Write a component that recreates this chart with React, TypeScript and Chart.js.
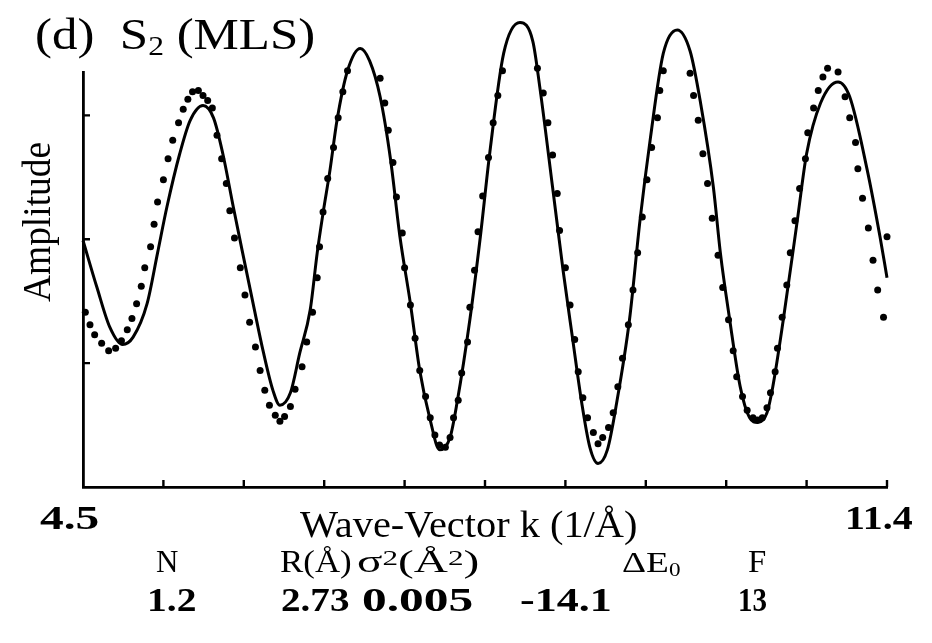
import React, { useEffect, useLayoutEffect, useRef, useState } from "react";
import { Chart, registerables } from "chart.js";

Chart.register(...registerables);

// Axis ranges (k in 1/Å, amplitude in arbitrary units)
const kMin = 4.5;
const kMax = 11.4;
const kTickStep = 0.69;
const ampMin = -2;
const ampMax = 1.35;
const ampTicks = [-1, 0, 1];

// Fitted curve (solid line)
const fitK = [
  4.5, 4.62, 4.73, 4.84, 4.93, 5.05, 5.14, 5.22, 5.33, 5.42, 5.53, 5.62, 5.7, 5.79, 5.87, 5.96,
  6.05, 6.13, 6.19, 6.28, 6.36, 6.45, 6.51, 6.56, 6.62, 6.68, 6.77, 6.88, 6.96, 7.05, 7.14, 7.22,
  7.31, 7.39, 7.48, 7.56, 7.65, 7.71, 7.82, 7.91, 7.99, 8.11, 8.25, 8.36, 8.42, 8.53, 8.62, 8.7,
  8.78, 8.85, 8.92, 9.0, 9.08, 9.19, 9.28, 9.37, 9.48, 9.6, 9.71, 9.8, 9.91, 9.97, 10.05, 10.14,
  10.22, 10.29, 10.37, 10.42, 10.51, 10.63, 10.71, 10.83, 10.98, 11.08, 11.23, 11.34, 11.4,
];
const fitAmp = [
  -0.01, -0.39, -0.71, -0.85, -0.79, -0.52, -0.11, 0.26, 0.69, 0.96, 1.08, 0.98, 0.69, 0.26, -0.11, -0.52,
  -0.92, -1.22, -1.34, -1.24, -0.92, -0.57, -0.11, 0.21, 0.56, 0.96, 1.36, 1.54, 1.44, 1.15, 0.64, 0.02,
  -0.52, -1.06, -1.46, -1.7, -1.6, -1.32, -0.65, 0.02, 0.69, 1.5, 1.75, 1.6, 1.23, 0.42, -0.25, -0.79,
  -1.32, -1.68, -1.81, -1.7, -1.32, -0.65, 0.15, 0.82, 1.5, 1.69, 1.52, 1.1, 0.42, -0.11, -0.65, -1.19,
  -1.44, -1.48, -1.4, -1.19, -0.65, 0.15, 0.69, 1.1, 1.27, 1.15, 0.56, 0.02, -0.31,
];

// Measured data (dots)
const dataK = [
  4.52, 4.56, 4.6, 4.66, 4.72, 4.78, 4.83, 4.88, 4.92, 4.96, 5.0, 5.03, 5.08, 5.11, 5.14, 5.19,
  5.23, 5.27, 5.32, 5.36, 5.4, 5.44, 5.49, 5.53, 5.57, 5.61, 5.65, 5.69, 5.73, 5.76, 5.8, 5.85,
  5.89, 5.93, 5.98, 6.02, 6.06, 6.1, 6.15, 6.19, 6.23, 6.28, 6.32, 6.38, 6.42, 6.47, 6.51, 6.53,
  6.56, 6.6, 6.65, 6.69, 6.73, 6.77, 6.82, 6.86, 6.9, 6.95, 7.01, 7.05, 7.09, 7.12, 7.16, 7.19,
  7.24, 7.26, 7.31, 7.35, 7.39, 7.44, 7.48, 7.52, 7.56, 7.61, 7.65, 7.68, 7.72, 7.75, 7.8, 7.82,
  7.86, 7.89, 7.93, 7.98, 8.02, 8.06, 8.1, 8.15, 8.19, 8.22, 8.28, 8.32, 8.36, 8.4, 8.45, 8.49,
  8.53, 8.57, 8.59, 8.64, 8.68, 8.72, 8.75, 8.79, 8.83, 8.88, 8.92, 8.96, 9.01, 9.05, 9.09, 9.13,
  9.18, 9.22, 9.26, 9.3, 9.34, 9.38, 9.43, 9.45, 9.48, 9.52, 9.56, 9.61, 9.65, 9.68, 9.71, 9.74,
  9.78, 9.82, 9.86, 9.9, 9.95, 9.99, 10.04, 10.08, 10.11, 10.16, 10.2, 10.25, 10.29, 10.33, 10.37, 10.4,
  10.44, 10.46, 10.5, 10.54, 10.57, 10.61, 10.65, 10.7, 10.72, 10.77, 10.81, 10.85, 10.89, 10.94, 10.98, 11.04,
  11.08, 11.13, 11.15, 11.19, 11.24, 11.28, 11.32, 11.37, 11.4,
];
const dataAmp = [
  -0.59, -0.69, -0.77, -0.84, -0.9, -0.88, -0.82, -0.73, -0.64, -0.52, -0.38, -0.23, -0.06, 0.12, 0.3, 0.48,
  0.65, 0.8, 0.94, 1.05, 1.13, 1.19, 1.2, 1.16, 1.12, 1.06, 0.84, 0.65, 0.45, 0.23, 0.01, -0.23,
  -0.45, -0.67, -0.87, -1.06, -1.22, -1.34, -1.42, -1.47, -1.43, -1.35, -1.21, -1.03, -0.83, -0.59, -0.31, -0.06,
  0.22, 0.49, 0.74, 0.98, 1.19, 1.36, 1.5, 1.59, 1.62, 1.56, 1.44, 1.3, 1.1, 0.88, 0.62, 0.34,
  0.05, -0.23, -0.53, -0.8, -1.06, -1.27, -1.44, -1.58, -1.66, -1.68, -1.6, -1.44, -1.3, -1.08, -0.83, -0.55,
  -0.25, 0.06, 0.35, 0.66, 0.94, 1.16, 1.36, 1.52, 1.62, 1.66, 1.69, 1.64, 1.55, 1.38, 1.18, 0.94,
  0.68, 0.37, 0.07, -0.23, -0.53, -0.81, -1.07, -1.28, -1.44, -1.56, -1.65, -1.6, -1.52, -1.4, -1.19, -0.96,
  -0.69, -0.41, -0.11, 0.18, 0.48, 0.74, 0.98, 1.2, 1.36, 1.51, 1.56, 1.56, 1.54, 1.47, 1.34, 1.16,
  0.96, 0.69, 0.45, 0.17, -0.13, -0.39, -0.65, -0.9, -1.11, -1.27, -1.38, -1.44, -1.46, -1.44, -1.36, -1.24,
  -1.07, -0.88, -0.63, -0.37, -0.11, 0.15, 0.41, 0.65, 0.86, 1.06, 1.2, 1.31, 1.38, 1.4, 1.35, 1.15,
  0.98, 0.78, 0.57, 0.33, 0.09, -0.17, -0.41, -0.63, 0.02,
];

// Fit parameters shown under the plot
const paramHeaders = ["N", "R(Å)", "σ²(Å²)", "ΔE₀", "F"];
const paramValues = ["1.2", "2.73", "0.005", "-14.1", "13"];

const SERIF = "'Liberation Serif', 'Times New Roman', 'DejaVu Serif', serif";

// Small inward tick marks on both axes
const tickMarks = {
  id: "tickMarks",
  afterDraw(chart: any) {
    const { ctx, chartArea, scales } = chart;
    const xs = scales.x;
    const ys = scales.y;
    ctx.save();
    ctx.strokeStyle = "#000";
    ctx.lineWidth = 2.4;
    ctx.beginPath();
    for (let i = 1; i * kTickStep <= kMax - kMin + 1e-6; i++) {
      const px = xs.getPixelForValue(kMin + i * kTickStep);
      ctx.moveTo(px, chartArea.bottom);
      ctx.lineTo(px, chartArea.bottom - 7);
    }
    for (const v of ampTicks) {
      const py = ys.getPixelForValue(v);
      ctx.moveTo(chartArea.left, py);
      ctx.lineTo(chartArea.left + 7, py);
    }
    ctx.stroke();
    ctx.restore();
  },
};

type TxtProps = {
  x: number;
  base: number;
  w: number;
  size: number;
  bold?: boolean;
  vertical?: boolean;
  children: React.ReactNode;
};

// Text block stretched horizontally to a given width
function Txt({ x, base, w, size, bold, vertical, children }: TxtProps) {
  const ref = useRef<HTMLDivElement>(null);
  const [sx, setSx] = useState(1);
  useLayoutEffect(() => {
    const measure = () => {
      if (ref.current && ref.current.offsetWidth > 0) setSx(w / ref.current.offsetWidth);
    };
    measure();
    (document as any).fonts?.ready?.then(measure);
  }, [w]);
  const asc = 0.8375 * size;
  const style: React.CSSProperties = {
    position: "absolute",
    fontFamily: SERIF,
    fontSize: size,
    fontWeight: bold ? 700 : 400,
    lineHeight: 1,
    whiteSpace: "nowrap",
    color: "#000",
    transformOrigin: "0 0",
  };
  if (vertical) {
    style.left = base - asc;
    style.top = x;
    style.transform = `rotate(-90deg) scaleX(${sx})`;
  } else {
    style.left = x;
    style.top = base - asc;
    style.transform = `scaleX(${sx})`;
  }
  return (
    <div ref={ref} style={style}>
      {children}
    </div>
  );
}

const subStyle: React.CSSProperties = { fontSize: "0.62em", position: "relative", top: "0.22em", lineHeight: 0 };
const supStyle: React.CSSProperties = { fontSize: "0.66em", position: "relative", top: "-0.36em", lineHeight: 0 };

export default function App() {
  const canvasRef = useRef<HTMLCanvasElement>(null);

  useEffect(() => {
    if (!canvasRef.current) return;
    const chart = new Chart(canvasRef.current, {
      type: "line",
      data: {
        datasets: [
          {
            label: "fit",
            data: fitK.map((k, i) => ({ x: k, y: fitAmp[i] })),
            borderColor: "#000",
            borderWidth: 3,
            pointRadius: 0,
            cubicInterpolationMode: "monotone",
            clip: false,
          } as any,
          {
            label: "data",
            data: dataK.map((k, i) => ({ x: k, y: dataAmp[i] })),
            showLine: false,
            pointRadius: 3.5,
            pointBackgroundColor: "#000",
            pointBorderWidth: 0,
            clip: false,
          } as any,
        ],
      },
      options: {
        responsive: false,
        animation: false,
        events: [],
        layout: { padding: { left: 83, top: 72, right: 45, bottom: 156 } },
        plugins: {
          legend: { display: false },
          tooltip: { enabled: false },
        },
        scales: {
          x: {
            type: "linear",
            min: kMin,
            max: kMax,
            grid: { display: false, drawTicks: false },
            border: { display: true, color: "#000", width: 2.8 },
            ticks: { display: false },
          },
          y: {
            type: "linear",
            min: ampMin,
            max: ampMax,
            grid: { display: false, drawTicks: false },
            border: { display: true, color: "#000", width: 2.8 },
            ticks: { display: false },
          },
        },
      },
      plugins: [tickMarks],
    });
    return () => chart.destroy();
  }, []);

  return (
    <div style={{ position: "absolute", left: 0, top: 0, width: 932, height: 643, background: "#fff", overflow: "hidden" }}>
      <canvas ref={canvasRef} width={932} height={643} style={{ display: "block" }} />

      <Txt x={35} base={50} w={280} size={44}>
        (d)&nbsp;&nbsp;S<span style={subStyle}>2</span>&nbsp;(MLS)
      </Txt>

      <Txt x={302} base={50} w={160} size={40} vertical>
        Amplitude
      </Txt>

      <Txt x={40} base={529} w={60} size={34} bold>
        {kMin.toFixed(1)}
      </Txt>
      <Txt x={845} base={529} w={68} size={34} bold>
        {kMax.toFixed(1)}
      </Txt>

      <Txt x={300} base={537} w={337} size={37}>
        Wave-Vector k (1/Å)
      </Txt>

      <Txt x={156} base={572} w={22} size={31}>
        {paramHeaders[0]}
      </Txt>
      <Txt x={280} base={572} w={72} size={31}>
        {paramHeaders[1]}
      </Txt>
      <Txt x={357} base={572} w={122} size={31}>
        σ<span style={supStyle}>2</span>(Å<span style={supStyle}>2</span>)
      </Txt>
      <Txt x={622} base={572} w={58} size={29}>
        ΔE<span style={subStyle}>0</span>
      </Txt>
      <Txt x={748} base={572} w={18} size={31}>
        {paramHeaders[4]}
      </Txt>

      <Txt x={147} base={611} w={50} size={34} bold>
        {paramValues[0]}
      </Txt>
      <Txt x={281} base={611} w={69} size={34} bold>
        {paramValues[1]}
      </Txt>
      <Txt x={362} base={611} w={112} size={34} bold>
        {paramValues[2]}
      </Txt>
      <Txt x={520} base={611} w={92} size={34} bold>
        {paramValues[3]}
      </Txt>
      <Txt x={738} base={611} w={29} size={34} bold>
        {paramValues[4]}
      </Txt>
    </div>
  );
}
